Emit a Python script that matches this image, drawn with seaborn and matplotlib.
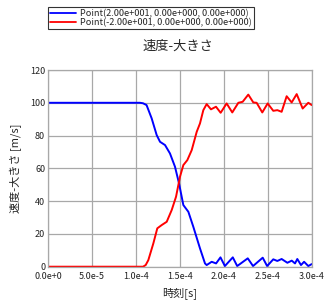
import numpy as np
import pandas as pd
import matplotlib
matplotlib.use("Agg")
import matplotlib.pyplot as plt
import seaborn as sns
from matplotlib.lines import Line2D

# time in microseconds (converted to seconds below)
blue_t = [0, 104.5, 108, 112, 117.8, 123.5, 127.3, 133, 138.6, 144.3, 148.9, 153.8, 159.5, 165.1,
          172.7, 178.4, 180.3, 186, 191, 196, 201, 210, 215, 227, 233, 244, 249, 256, 260.6,
          265.5, 272, 277, 280.7, 283.3, 287.5, 291, 295.8, 299.7]
blue_v = [100, 100, 99.7, 98.6, 90.5, 80.3, 76.2, 74.2, 69.1, 61, 50.8, 37.6, 33.5, 24.4,
          11.2, 2, 1, 3.0, 2.0, 5.7, 0.4, 5.7, 0.4, 5.1, 0.4, 5.5, 0.4, 4.5, 3.5,
          4.7, 2.4, 3.7, 2.0, 4.7, 1.0, 3.0, 0.4, 1.6]

red_t = [0, 108, 111, 114, 119.7, 124.2, 129.2, 134.9, 140.6, 145.5, 150, 153.8, 158.3, 163.3,
         169, 172.7, 176.5, 180.3, 185.2, 190.9, 196.2, 203, 209.4, 216.3, 221.2, 227.6,
         233.3, 237.1, 243.5, 249.6, 256, 260.6, 265.5, 271.2, 276.9, 282.6, 289.4, 295.8, 299.7]
red_v = [0, 0, 1, 4, 14.2, 23.4, 25.4, 27.4, 34.6, 42.7, 54.9, 62, 65, 71.1,
         82.3, 87.4, 95.5, 99.2, 96, 97.6, 93.9, 99.6, 94.1, 100, 100.6, 105,
         100.2, 100, 94.1, 99.6, 95.1, 95.5, 94.5, 104, 100.2, 105.3, 96.5, 100, 98.6]

series_names = ["Point(2.00e+001, 0.00e+000, 0.00e+000)",
                "Point(-2.00e+001, 0.00e+000, 0.00e+000)"]
x_ticks = [0, 5e-5, 1e-4, 1.5e-4, 2e-4, 2.5e-4, 3e-4]
x_tick_labels = ["0.0e+0", "5.0e-5", "1.0e-4", "1.5e-4", "2.0e-4", "2.5e-4", "3.0e-4"]
y_ticks = [0, 20, 40, 60, 80, 100, 120]

df = pd.concat([
    pd.DataFrame({"t": np.array(blue_t) * 1e-6, "v": blue_v, "s": series_names[0]}),
    pd.DataFrame({"t": np.array(red_t) * 1e-6, "v": red_v, "s": series_names[1]}),
])

sns.set_style("white")
plt.rcParams['font.family'] = ['Noto Sans CJK JP', 'DejaVu Sans']

fig = plt.figure(figsize=(3.31, 3.08), dpi=100)
ax = fig.add_axes([48/331, 1 - 266.7/308, (312-48)/331, (266.7-70)/308])

sns.lineplot(data=df, x="t", y="v", hue="s", palette=["#0000ff", "#ff0000"],
             ax=ax, linewidth=1.4, sort=False, legend=False)

ax.set_xlim(0, 3e-4)
ax.set_ylim(0, 120)
ax.set_xticks(x_ticks)
ax.set_xticklabels(x_tick_labels)
ax.set_yticks(y_ticks)
ax.tick_params(length=0, labelsize=6.5, colors="#222222")
ax.tick_params(axis="x", pad=3.5)
ax.tick_params(axis="y", pad=2)
ax.grid(True, color="#a8a8a8", linewidth=0.9)
for sp in ax.spines.values():
    sp.set_color("#a8a8a8")
    sp.set_linewidth(0.9)
ax.set_xlabel("時刻[s]", fontsize=8, labelpad=5)
ax.set_ylabel("速度-大きさ [m/s]", fontsize=8, labelpad=6)
fig.text(178/331, 1 - 46/308, "速度-大きさ", ha="center", va="center", fontsize=9.5)

handles = [Line2D([], [], color="#0000ff", lw=1.3), Line2D([], [], color="#ff0000", lw=1.3)]
leg = fig.legend(handles, series_names, loc="upper left",
                 bbox_to_anchor=(48/331, 1 - 7/308), fontsize=6.6, frameon=True,
                 fancybox=False, edgecolor="black", handlelength=2.8, handletextpad=0.5,
                 borderpad=0.2, labelspacing=0.05, borderaxespad=0)
leg.get_frame().set_linewidth(0.8)

fig.savefig("out.png", dpi=100)
